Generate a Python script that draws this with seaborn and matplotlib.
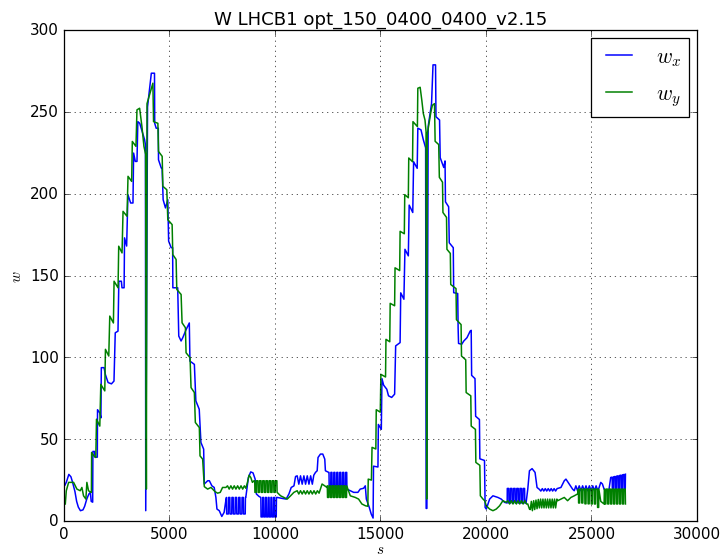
import matplotlib
matplotlib.use("Agg")
import matplotlib.pyplot as plt
import seaborn as sns
import pandas as pd

TITLE = "W LHCB1 opt_150_0400_0400_v2.15"
X_LABEL = "$s$"
Y_LABEL = "$w$"
LABEL_X = "$w_x$"
LABEL_Y = "$w_y$"

# ---------------- w_x (blue) : (s, w) vertices ----------------
wx_start = [(50, 22), (120, 24), (230, 28.5), (330, 27), (400, 24), (520, 18), (600, 12), (680, 8.5),
            (780, 6.3), (900, 6.8), (980, 9), (1080, 13.4), (1180, 16.5), (1250, 17.5), (1290, 12), (1360, 11.5)]
wx_rise1 = [(1370, 42.5), (1450, 42.5), (1470, 39), (1580, 39), (1590, 68), (1700, 66), (1750, 63), (1770, 93.7),
            (1900, 93.7), (1960, 89.6), (2090, 84.6), (2250, 83.8), (2370, 85.5), (2430, 115), (2560, 116),
            (2600, 146.5), (2720, 146.5), (2750, 142.5), (2850, 142.5), (2870, 173), (2970, 168), (3030, 199.4),
            (3160, 194.3), (3270, 194.3), (3300, 224.8), (3380, 219.7), (3460, 219.7), (3500, 244), (3590, 243),
            (3820, 233), (3860, 230)]
wx_spike1 = [(3875, 6.3), (3960, 253), (4140, 273.6), (4290, 273.6)]
wx_fall1 = [(4300, 243), (4370, 240), (4470, 240), (4480, 220.7), (4610, 215.7), (4650, 215.7), (4700, 196.3),
            (4810, 191.3), (4920, 196.3), (4960, 171), (5080, 167), (5150, 167), (5160, 142.5), (5390, 142.5),
            (5440, 113), (5550, 110), (5630, 112), (5790, 117), (5940, 121), (5970, 97.7), (6180, 95.7),
            (6250, 73.4), (6410, 68.3), (6490, 48), (6620, 43.9), (6650, 22.6)]
wx_mid1 = [(6810, 24.6), (6890, 24.6), (7010, 21.5), (7120, 20.5), (7200, 14.4), (7250, 7.3), (7360, 6.3),
           (7480, 2.8), (7590, 5.3), (7670, 12.4)]
wx_osc1 = [(7700, 14.4), (7710, 4.3), (7790, 4.3), (7800, 14.4), (7860, 14.4), (7870, 4.3), (7950, 4.3), (7960, 14.4),
           (8020, 14.4), (8030, 4.3), (8110, 4.3), (8120, 14.4), (8180, 14.4), (8190, 4.3), (8270, 4.3), (8280, 14.4),
           (8340, 14.4), (8350, 4.3), (8430, 4.3), (8440, 14.4), (8500, 14.4), (8510, 4.3), (8590, 4.3), (8600, 14.4)]
wx_hump1 = [(8617, 14.4), (8740, 26.6), (8850, 30), (8960, 29.4), (9060, 25.6), (9120, 16.5), (9245, 15)]
wx_osc2 = [(9330, 14.4), (9340, 2.5), (9410, 2.5), (9420, 14.4), (9460, 14.4), (9470, 2.5), (9540, 2.5), (9550, 14.4),
           (9590, 14.4), (9600, 2.5), (9670, 2.5), (9680, 14.4), (9720, 14.4), (9730, 2.5), (9800, 2.5), (9810, 14.4),
           (9850, 14.4), (9860, 2.5), (9930, 2.5), (9940, 14.4), (9980, 14.4), (9990, 2.5), (10060, 2.5), (10070, 14.4)]
wx_mid2 = [(10110, 14.4), (10345, 13.8), (10530, 13.4), (10660, 16.5), (10770, 20.5), (10900, 21.5),
           (10975, 27.2), (11053, 27.6)]
wx_osc3 = [(11130, 22.5), (11210, 27.6), (11290, 22.5), (11370, 27.6), (11450, 22.5), (11530, 27.6),
           (11610, 22.5), (11690, 27.6), (11770, 22.5), (11840, 28)]
wx_hump2 = [(11920, 29.7), (12000, 30.7), (12040, 38.8), (12155, 40.9), (12265, 40.9), (12360, 37.8),
            (12390, 30.7), (12547, 29.7)]
wx_osc4 = [(12560, 29.7), (12570, 19.5), (12640, 19.5), (12650, 29.7), (12700, 29.7), (12710, 19.5), (12780, 19.5),
           (12790, 29.7), (12840, 29.7), (12850, 19.5), (12920, 19.5), (12930, 29.7), (12980, 29.7), (12990, 19.5),
           (13060, 19.5), (13070, 29.7), (13120, 29.7), (13130, 19.5), (13200, 19.5), (13210, 29.7), (13260, 29.7),
           (13270, 19.5), (13340, 19.5), (13350, 29.7), (13400, 29.7), (13410, 19.5)]
wx_dip = [(13570, 18.5), (13730, 17.5), (13930, 17.5), (14040, 19.5), (14200, 20), (14280, 21.5), (14330, 13.4),
          (14470, 8.3), (14560, 4.3), (14650, 1.8)]
wx_rise2 = [(14670, 33.5), (14880, 33), (14900, 59), (15040, 56), (15070, 87), (15150, 83), (15300, 80.5),
            (15380, 76.5), (15530, 75.5), (15670, 77.5), (15720, 107), (15930, 109), (15960, 139.4), (16110, 135.5),
            (16160, 166), (16320, 162), (16360, 193), (16530, 188.5), (16570, 219.5), (16740, 215.5), (16770, 240),
            (16920, 239), (17030, 233), (17140, 228)]
wx_spike2 = [(17165, 7.7), (17200, 7.7), (17260, 241), (17420, 255), (17490, 278.7), (17610, 278.7)]
wx_fall2 = [(17630, 247), (17800, 245), (17830, 222), (18000, 216), (18060, 220), (18080, 195), (18230, 192),
            (18260, 170), (18450, 167), (18470, 139.5), (18660, 139), (18680, 118), (18700, 108.5), (18850, 108),
            (18950, 110), (19100, 112), (19250, 116), (19300, 116.5), (19320, 89), (19480, 87), (19510, 64),
            (19690, 62), (19710, 38), (19930, 37), (19960, 8.3), (20016, 7.3), (20173, 13.4), (20330, 15.4),
            (20566, 14.4), (20723, 13.4), (20880, 11.4), (21005, 11)]
wx_osc5 = [(21010, 19.9), (21080, 19.9), (21090, 11), (21150, 11), (21160, 19.9), (21230, 19.9), (21240, 11),
           (21300, 11), (21310, 19.9), (21380, 19.9), (21390, 11), (21450, 11), (21460, 19.9), (21530, 19.9),
           (21540, 11), (21600, 11), (21610, 19.9), (21680, 19.9), (21690, 11), (21750, 11), (21760, 19.9),
           (21830, 19.9), (21840, 11), (21900, 11)]
wx_hump3 = [(21981, 19.5), (22060, 30.7), (22185, 32), (22326, 29.7), (22420, 20.5), (22533, 19.3)]
wx_osc6 = [(22600, 18.3), (22670, 19.8), (22740, 18.3), (22810, 19.8), (22880, 18.3), (22950, 19.8),
           (23020, 18.3), (23090, 19.8), (23160, 18.3), (23230, 19.8), (23300, 18.3), (23370, 19.8)]
wx_hump4 = [(23553, 20.5), (23711, 24.6), (23790, 25.6), (23947, 22.6), (24104, 19.5), (24184, 18.5)]
wx_osc7 = [(24260, 21.5), (24340, 18.5), (24420, 21.5), (24500, 18.5), (24580, 21.5), (24660, 18.5),
           (24740, 21.5), (24820, 18.5), (24900, 21.5), (24980, 18.5), (25060, 21.5), (25140, 18.5),
           (25220, 21.5), (25300, 18.5)]
wx_tail = [(25363, 20.5), (25440, 23.6), (25519, 22.6), (25598, 19.5), (25755, 18.5), (25833, 19.5), (25912, 26.6)]
wx_osc8 = [(25980, 26.8), (25990, 18.5), (26040, 18.5), (26050, 27), (26120, 27.2), (26130, 18.5), (26180, 18.5),
           (26190, 27.4), (26260, 27.6), (26270, 18.5), (26320, 18.5), (26330, 27.8), (26400, 28), (26410, 18.5),
           (26460, 18.5), (26470, 28.2), (26540, 28.4), (26550, 18.5), (26600, 18.5), (26610, 28.6)]

# ---------------- w_y (green) ----------------
wy_start = [(63, 10.4), (110, 18.5), (220, 23.6), (456, 23.6), (613, 19.5), (770, 18.5), (849, 20.5), (927, 15.4),
            (1038, 13.4), (1085, 23.6), (1164, 18.5), (1274, 17.5), (1300, 17.5)]
wy_rise1 = [(1310, 41.9), (1431, 39.6), (1509, 38.8), (1541, 62.2), (1698, 58), (1745, 83.5), (1934, 79.5),
            (1965, 104.9), (2123, 100.8), (2170, 125.2), (2343, 121), (2374, 146.5), (2563, 142.5), (2594, 167.9),
            (2752, 163.8), (2799, 189.2), (2988, 186.2), (3035, 210.6), (3208, 207.5), (3239, 231.9),
            (3412, 228.9), (3459, 251.2), (3585, 252.2), (3695, 241), (3789, 228.9), (3870, 224)]
wy_spike1 = [(3905, 19.5), (3935, 255), (4214, 267.5)]
wy_fall1 = [(4245, 244), (4450, 243), (4481, 225.8), (4654, 222.8), (4686, 204.5), (4874, 202.4), (4921, 184.1),
            (5126, 181.1), (5157, 162.8), (5314, 159.8), (5346, 141.5), (5551, 138.4), (5597, 121.1), (5755, 118.1),
            (5786, 102.8), (5975, 99.8), (6022, 81.5), (6179, 78.5), (6226, 60.2), (6415, 57.1), (6447, 39.8),
            (6572, 37.8), (6651, 21)]
wy_mid1 = [(6808, 19.5), (6965, 20.5), (7044, 19.5), (7154, 18), (7280, 17), (7406, 17.5), (7516, 20.5), (7673, 20.5)]
wy_osc1 = [(7750, 21.5), (7830, 19.5), (7910, 21.5), (7990, 19.5), (8070, 21.5), (8150, 19.5), (8230, 21.5),
           (8310, 19.5), (8390, 21.5), (8470, 19.5), (8550, 21.5), (8620, 20)]
wy_hump1 = [(8696, 23.6), (8774, 28), (8853, 26.6), (8931, 23.6), (9010, 24.6)]
wy_osc2 = [(9040, 24.6), (9050, 17.5), (9110, 17.5), (9120, 24.6), (9190, 24.6), (9200, 17.5), (9260, 17.5),
           (9270, 24.6), (9340, 24.6), (9350, 17.5), (9410, 17.5), (9420, 24.6), (9490, 24.6), (9500, 17.5),
           (9560, 17.5), (9570, 24.6), (9640, 24.6), (9650, 17.5), (9710, 17.5), (9720, 24.6), (9790, 24.6),
           (9800, 17.5), (9860, 17.5), (9870, 24.6), (9940, 24.6), (9950, 17.5), (10010, 17.5), (10020, 24.6),
           (10090, 24.6), (10100, 17.5)]
wy_mid2 = [(10267, 15.4), (10424, 14.4), (10581, 13.4), (10739, 15.4), (10896, 17.5), (11053, 18.5)]
wy_osc3 = [(11130, 16.5), (11210, 18.5), (11290, 16.5), (11370, 18.5), (11450, 16.5), (11530, 18.5),
           (11610, 16.5), (11690, 18.5), (11770, 16.5), (11850, 18.5), (11930, 16.5), (12010, 18.5), (12090, 17)]
wy_hump2 = [(12155, 19.5), (12232, 22.6), (12358, 21.5), (12468, 20.5)]
wy_osc4 = [(12480, 21.5), (12490, 14.4), (12550, 14.4), (12560, 21.5), (12620, 21.5), (12630, 14.4), (12690, 14.4),
           (12700, 21.5), (12760, 21.5), (12770, 14.4), (12830, 14.4), (12840, 21.5), (12900, 21.5), (12910, 14.4),
           (12970, 14.4), (12980, 21.5), (13040, 21.5), (13050, 14.4), (13110, 14.4), (13120, 21.5), (13180, 21.5),
           (13190, 14.4), (13250, 14.4), (13260, 21.5), (13320, 21.5), (13330, 14.4), (13390, 14.4), (13400, 21.5)]
wy_dip = [(13570, 15.4), (13806, 14.4), (13962, 13.4), (14119, 10.4), (14290, 9.3), (14400, 9)]
wy_rise2 = [(14420, 25.6), (14570, 25), (14600, 45), (14780, 44), (14800, 68), (14990, 66.5), (15020, 89.6),
            (15240, 88), (15260, 111), (15440, 109.5), (15460, 133), (15670, 131.5), (15690, 154.7), (15910, 153),
            (15930, 177), (16130, 175.5), (16150, 199.4), (16320, 197.5), (16340, 221.8), (16520, 219.5),
            (16540, 244), (16750, 241), (16770, 264.4), (16880, 265), (16960, 257), (17030, 249), (17110, 245),
            (17160, 238)]
wy_spike2 = [(17190, 13.4), (17215, 236), (17300, 243), (17390, 250), (17460, 254), (17560, 255)]
wy_fall2 = [(17590, 232), (17760, 230), (17790, 210), (17940, 207), (17960, 188.5), (18130, 185.5), (18150, 166),
            (18310, 163.5), (18330, 144.5), (18580, 142), (18600, 123), (18820, 120), (18840, 100.8), (19040, 98.5),
            (19060, 78.5), (19280, 76.5), (19300, 58), (19500, 56), (19520, 35.8), (19710, 34), (19733, 15.4),
            (19859, 13.4), (19938, 12.4), (20016, 9.3), (20173, 7.3), (20330, 6.3), (20487, 7.3), (20645, 9.3),
            (20802, 12.4), (20959, 11.4)]
wy_osc5 = [(21040, 12.4), (21120, 10.4), (21200, 12.4), (21280, 10.4), (21360, 12.4), (21440, 10.4),
           (21520, 12.4), (21600, 10.4), (21680, 12.4), (21760, 10.4), (21840, 12.4), (21920, 10.4)]
wy_mid3 = [(21981, 10.4), (22060, 7.3)]
wy_osc6 = [(22100, 7), (22150, 12), (22200, 6.3), (22260, 12.4), (22310, 7), (22370, 12.8), (22420, 7.5),
           (22480, 13.2), (22530, 8), (22590, 13.4), (22640, 8), (22700, 13.4), (22750, 8), (22810, 13.4),
           (22860, 8), (22920, 13.4), (22970, 8), (23030, 13.4), (23080, 8), (23140, 13.4), (23190, 8),
           (23250, 13.4), (23300, 8), (23360, 13.4)]
wy_mid4 = [(23396, 12.4), (23553, 13.4), (23711, 14.4), (23868, 12.4), (24025, 14.4), (24184, 15.4), (24340, 16.5)]
wy_osc7 = [(24380, 19.5), (24390, 11), (24440, 11), (24450, 19.5), (24530, 19.5), (24540, 11), (24590, 11),
           (24600, 19.5), (24680, 19.5), (24690, 10.5), (24740, 10.5), (24750, 19.5), (24830, 19.5), (24840, 10.5),
           (24890, 10.5), (24900, 19.5), (24980, 19.5), (24990, 10.4), (25040, 10.4), (25050, 19.5), (25130, 19.5),
           (25140, 10.4), (25190, 10.4), (25200, 19.5), (25280, 19.5), (25290, 8.3), (25340, 8.3), (25350, 19.5)]
wy_gap = [(25440, 12), (25598, 10.4)]
wy_osc8 = [(25620, 19.5), (25630, 10.4), (25680, 10.4), (25690, 19.5), (25760, 19.5), (25770, 10.4), (25820, 10.4),
           (25830, 19.5), (25900, 19.5), (25910, 10.4), (25960, 10.4), (25970, 19.5), (26040, 19.5), (26050, 10.4),
           (26100, 10.4), (26110, 19.5), (26180, 19.5), (26190, 10.4), (26240, 10.4), (26250, 19.5), (26320, 19.5),
           (26330, 10.4), (26380, 10.4), (26390, 19.5), (26460, 19.5), (26470, 10.4), (26520, 10.4), (26530, 19.5),
           (26600, 19.5), (26610, 10.4)]

wx_segments = [wx_start, wx_rise1, wx_spike1, wx_fall1, wx_mid1, wx_osc1, wx_hump1, wx_osc2, wx_mid2, wx_osc3,
               wx_hump2, wx_osc4, wx_dip, wx_rise2, wx_spike2, wx_fall2, wx_osc5, wx_hump3, wx_osc6, wx_hump4,
               wx_osc7, wx_tail, wx_osc8]
wy_segments = [wy_start, wy_rise1, wy_spike1, wy_fall1, wy_mid1, wy_osc1, wy_hump1, wy_osc2, wy_mid2, wy_osc3,
               wy_hump2, wy_osc4, wy_dip, wy_rise2, wy_spike2, wy_fall2, wy_osc5, wy_mid3, wy_osc6, wy_mid4,
               wy_osc7, wy_gap, wy_osc8]


def to_frame(segments):
    pts = [p for seg in segments for p in seg]
    return pd.DataFrame({"s": [p[0] for p in pts], "w": [p[1] for p in pts]})


df_x = to_frame(wx_segments)
df_y = to_frame(wy_segments)

plt.style.use("classic")
DPI = 90.875
fig = plt.figure(figsize=(8.0, 6.14), dpi=DPI)
fig.patch.set_facecolor("white")
ax = fig.add_axes([0.088, 0.0645, 0.8707, 0.880])

sns.lineplot(data=df_x, x="s", y="w", sort=False, estimator=None, color="b", linewidth=1.2,
             label=LABEL_X, ax=ax)
sns.lineplot(data=df_y, x="s", y="w", sort=False, estimator=None, color="g", linewidth=1.2,
             label=LABEL_Y, ax=ax)

ax.set_xlim(0, 30000)
ax.set_ylim(0, 300)
ax.grid(True, color="k", linestyle=":", linewidth=0.5)
ax.set_title(TITLE)
ax.set_xlabel(X_LABEL, labelpad=0)
ax.set_ylabel(Y_LABEL)
ax.legend(loc="upper right", fontsize=17, handlelength=1.8, labelspacing=0.75, borderaxespad=0.35)

fig.savefig("out.png", dpi=DPI, facecolor="white")
